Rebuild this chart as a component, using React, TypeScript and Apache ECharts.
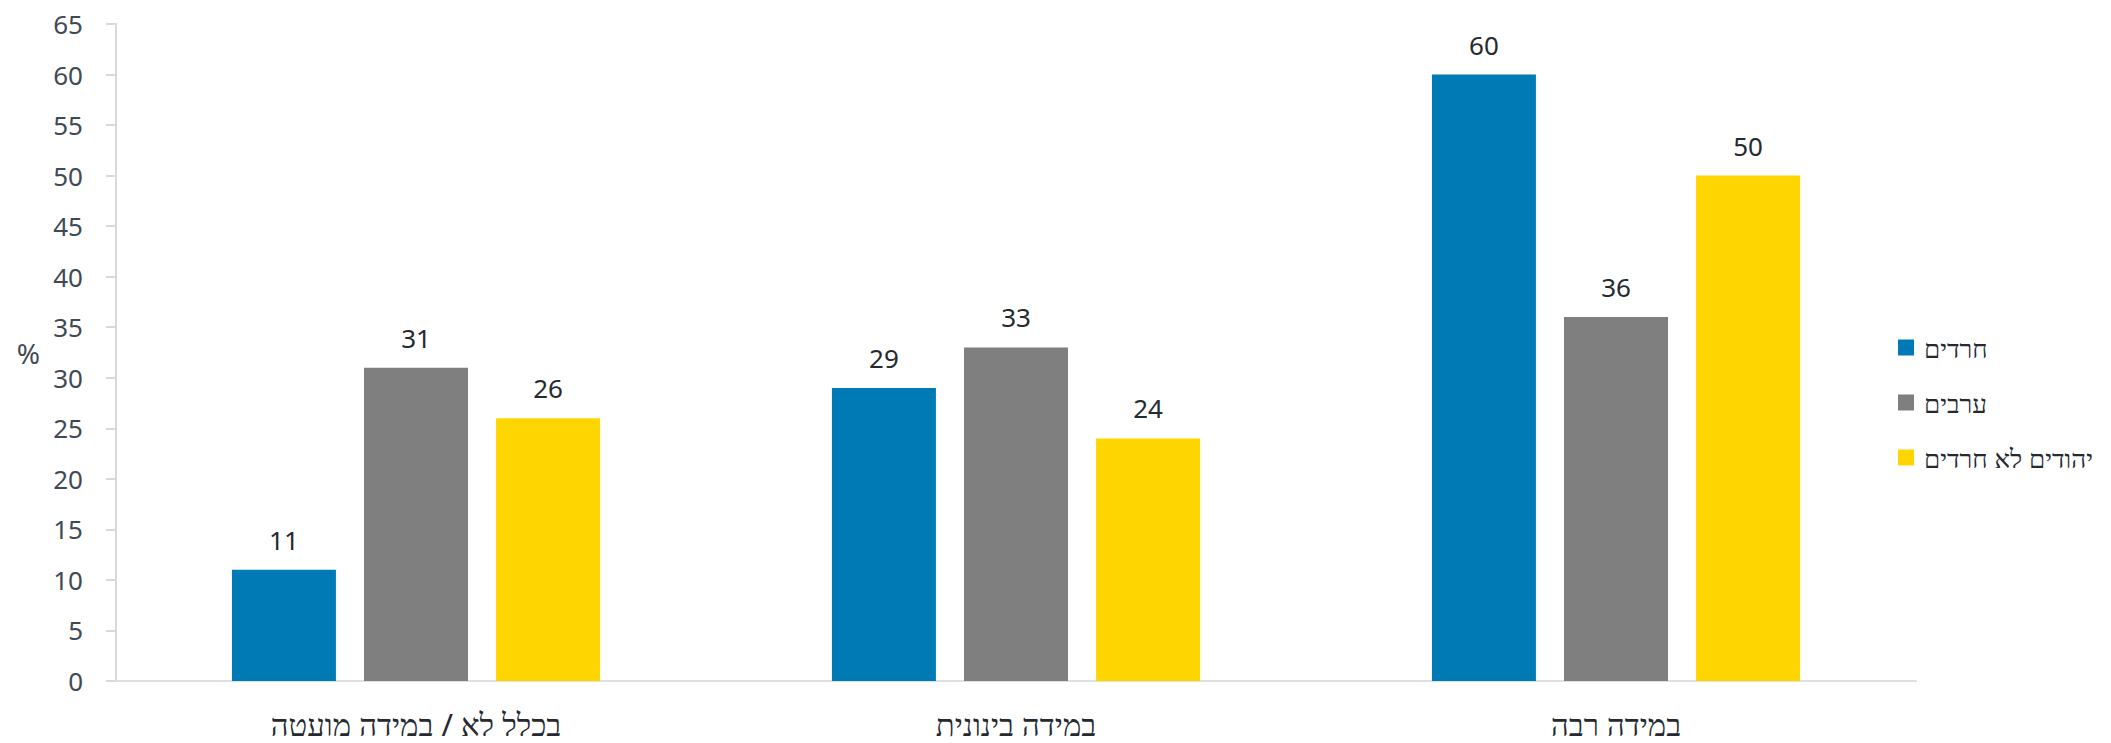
import React, { useEffect, useRef } from "react";
import * as echarts from "echarts";

const categories = ["בכלל לא / במידה מועטה", "במידה בינונית", "במידה רבה"];
const seriesNames = ["חרדים", "ערבים", "יהודים לא חרדים"];
const haredim = [11, 29, 60];
const arabs = [31, 33, 36];
const nonHaredi = [26, 24, 50];
const colors = ["#007AB5", "#7F7F7F", "#FFD500"];

export default function App() {
  const ref = useRef<HTMLDivElement>(null);
  useEffect(() => {
    document.body.style.margin = "0";
    const chart = echarts.init(ref.current!, null, { renderer: "svg" });
    const dataSets = [haredim, arabs, nonHaredi];
    chart.setOption({
      animation: false,
      backgroundColor: "#ffffff",
      grid: { left: 116, right: 195, top: 24, bottom: 62, containLabel: false },
      legend: {
        orient: "vertical",
        left: 1893,
        top: 329,
        itemWidth: 16,
        itemHeight: 16,
        itemGap: 28,
        icon: "rect",
        data: seriesNames,
        textStyle: {
          fontFamily: "Noto Sans",
          fontSize: 26,
          lineHeight: 27,
          color: "#252A31",
          padding: [0, 0, 0, 5],
        },
      },
      xAxis: {
        type: "category",
        data: categories,
        axisLine: { show: true, lineStyle: { color: "#DDE1E4", width: 2 } },
        axisTick: { show: false },
        axisLabel: {
          fontFamily: "Noto Sans",
          fontSize: 31,
          lineHeight: 31,
          color: "#252A31",
          margin: 27,
        },
      },
      yAxis: {
        type: "value",
        min: 0,
        max: 65,
        interval: 5,
        name: "%",
        nameLocation: "middle",
        nameRotate: 0,
        nameGap: 76,
        nameTextStyle: { fontFamily: "Noto Sans", fontSize: 28, color: "#3F4A56" },
        splitLine: { show: false },
        axisLine: { show: true, lineStyle: { color: "#D9D9D9", width: 2 } },
        axisTick: { show: true, length: 10, lineStyle: { color: "#D9D9D9", width: 2 } },
        axisLabel: {
          fontFamily: "Noto Sans",
          fontSize: 26,
          color: "#3F4A56",
          margin: 33,
        },
      },
      series: seriesNames.map((name, i) => ({
        name,
        type: "bar",
        data: dataSets[i],
        barWidth: 104,
        barGap: "27%",
        itemStyle: { color: colors[i] },
        label: {
          show: true,
          position: "top",
          distance: 17,
          fontFamily: "Noto Sans",
          fontSize: 26,
          color: "#252A31",
        },
      })),
    });
    return () => chart.dispose();
  }, []);
  return <div ref={ref} style={{ width: 2111, height: 743 }} />;
}
